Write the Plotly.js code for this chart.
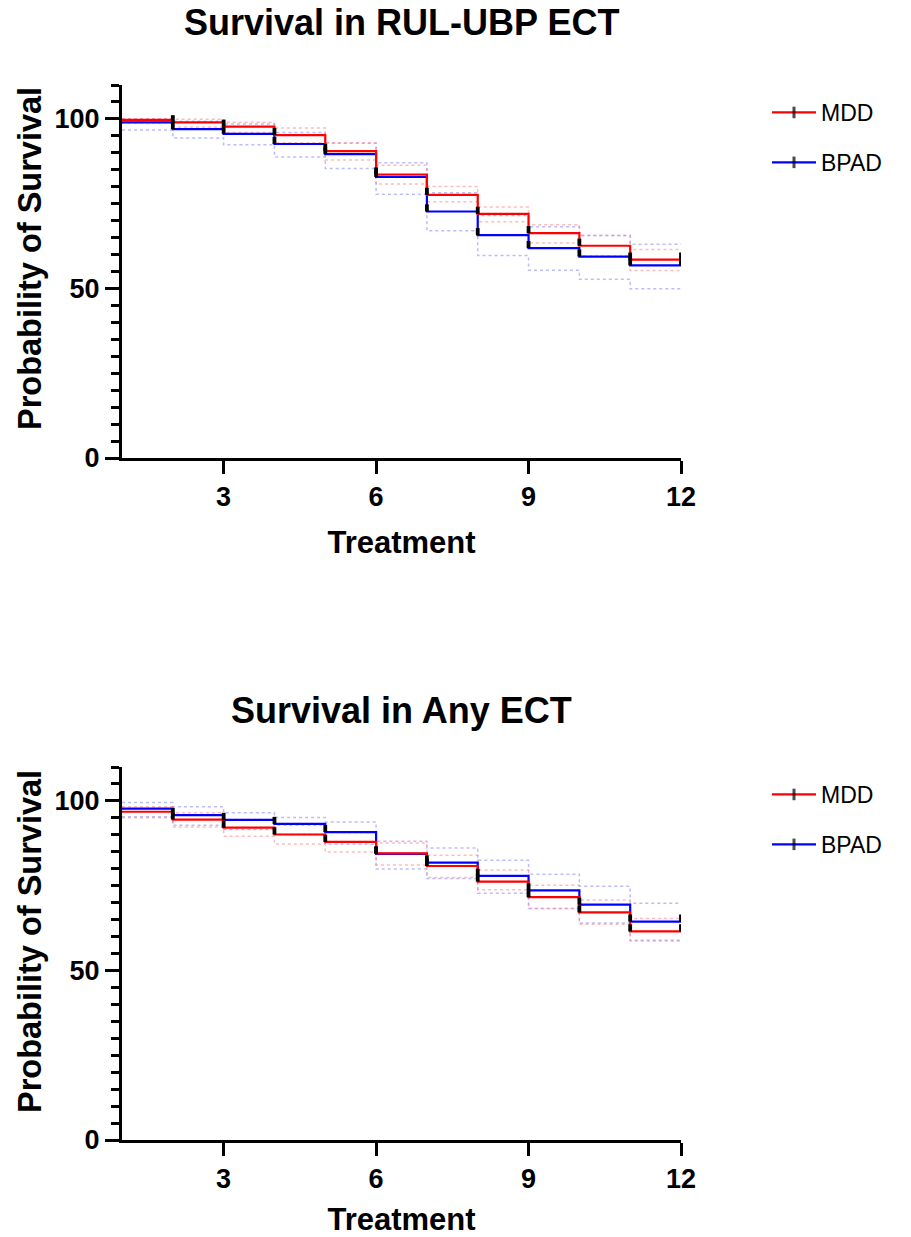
<!DOCTYPE html>
<html><head><meta charset="utf-8">
<script src="https://cdn.plot.ly/plotly-3.0.1.min.js"></script>
<style>html,body{margin:0;padding:0;background:#fff}#chart{width:911px;height:1237px}</style>
</head><body><div id="chart"></div>
<script>
// Treatment number (x)
const treatments = [1, 2, 3, 4, 5, 6, 7, 8, 9, 10, 11, 12];

// Top panel: Survival in RUL-UBP ECT
const topMdd      = [99.7, 99.0, 97.7, 95.2, 90.5, 83.6, 77.6, 72.0, 66.3, 62.6, 58.5, 58.5];
const topMddUpper = [100, 99.9, 99.0, 97.3, 93.0, 86.3, 80.1, 74.0, 68.8, 65.6, 61.5, 61.5];
const topMddLower = [98.8, 97.6, 96.0, 93.0, 87.9, 80.8, 75.6, 69.7, 63.4, 59.6, 55.3, 55.3];
const topBpad      = [99.0, 97.0, 95.6, 92.6, 89.6, 82.9, 72.7, 65.7, 61.9, 59.4, 56.8, 56.8];
const topBpadUpper = [100, 99.3, 98.5, 96.0, 92.8, 87.1, 78.2, 71.5, 68.2, 65.6, 63.0, 63.0];
const topBpadLower = [96.7, 94.4, 92.4, 88.8, 85.4, 77.8, 67.0, 59.7, 55.4, 52.7, 49.9, 49.9];

// Bottom panel: Survival in Any ECT
const botMdd      = [96.8, 94.5, 92.1, 90.1, 87.9, 84.5, 80.8, 76.2, 71.6, 67.1, 61.5, 61.5];
const botMddUpper = [98.3, 96.5, 94.5, 92.8, 90.7, 87.6, 84.0, 79.6, 75.1, 70.8, 65.3, 65.3];
const botMddLower = [95.0, 92.3, 89.6, 87.3, 84.9, 81.1, 77.4, 73.8, 68.3, 63.6, 58.7, 58.7];
const botBpad      = [97.7, 95.8, 94.4, 93.2, 90.8, 84.4, 81.8, 77.9, 73.6, 69.4, 64.4, 64.4];
const botBpadUpper = [99.5, 98.3, 96.5, 95.1, 93.8, 88.1, 86.1, 82.5, 78.4, 74.8, 69.8, 69.8];
const botBpadLower = [95.3, 92.8, 91.6, 90.2, 87.2, 79.9, 77.1, 72.8, 68.3, 64.0, 58.9, 58.9];

const groupNames = ['MDD', 'BPAD'];
const titles = ['Survival in RUL-UBP ECT', 'Survival in Any ECT'];
const xTitle = 'Treatment';
const yTitle = 'Probability of Survival';
const xTicks = [3, 6, 9, 12];

const FONT = '"Liberation Sans", Arial, sans-serif';
const RED = '#ff0000', BLUE = '#0000ff';
const RED_CI = 'rgba(255,120,120,0.5)', BLUE_CI = 'rgba(120,120,255,0.5)';

function ciTrace(y, color, xa, ya) {
  return {x: treatments, y: y, xaxis: xa, yaxis: ya, mode: 'lines', showlegend: false,
    hoverinfo: 'skip', line: {shape: 'hv', color: color, width: 1.5, dash: 'dot'}};
}
function stepTrace(y, color, name, xa, ya, legend, rank) {
  return {x: treatments, y: y, xaxis: xa, yaxis: ya, name: name, legend: legend,
    legendgroup: legend + name, legendrank: rank, mode: 'lines+markers',
    line: {shape: 'hv', color: color, width: 2.2},
    marker: {symbol: 'line-ns', size: y.map((v, i) => i === 0 ? 0 : 9),
      color: 'black',
      line: {width: 3, color: y.map((v, i) => i === 0 ? 'black' : 'rgba(0,0,0,0)')}}};
}
function censorTrace(y, xa, ya) {
  return {x: treatments.slice(1), y: y.slice(1), xaxis: xa, yaxis: ya, mode: 'markers',
    showlegend: false, hoverinfo: 'skip', cliponaxis: false,
    marker: {size: 1, color: 'rgba(0,0,0,0)'},
    error_y: {type: 'constant', symmetric: false, value: 2.1, valueminus: 0,
      width: 0, thickness: 3.8, color: 'black'}};
}

const data = [
  ciTrace(topBpadUpper, BLUE_CI, 'x', 'y'), ciTrace(topBpadLower, BLUE_CI, 'x', 'y'),
  ciTrace(topMddUpper, RED_CI, 'x', 'y'), ciTrace(topMddLower, RED_CI, 'x', 'y'),
  stepTrace(topBpad, BLUE, groupNames[1], 'x', 'y', 'legend', 2),
  stepTrace(topMdd, RED, groupNames[0], 'x', 'y', 'legend', 1),
  censorTrace(topBpad, 'x', 'y'), censorTrace(topMdd, 'x', 'y'),

  ciTrace(botBpadUpper, BLUE_CI, 'x2', 'y2'), ciTrace(botBpadLower, BLUE_CI, 'x2', 'y2'),
  ciTrace(botMddUpper, RED_CI, 'x2', 'y2'), ciTrace(botMddLower, RED_CI, 'x2', 'y2'),
  stepTrace(botBpad, BLUE, groupNames[1], 'x2', 'y2', 'legend2', 2),
  stepTrace(botMdd, RED, groupNames[0], 'x2', 'y2', 'legend2', 1),
  censorTrace(botBpad, 'x2', 'y2'), censorTrace(botMdd, 'x2', 'y2')
];

const W = 911, H = 1237;
const xDom = [122 / W, 681 / W];
const tickFont = {family: FONT, size: 27, weight: 'bold', color: 'black'};

function xAxis(anchor) {
  return {domain: xDom, range: [1, 12], anchor: anchor, tickmode: 'array', tickvals: xTicks,
    ticks: 'outside', ticklen: 13, tickwidth: 3, tickcolor: 'black',
    showline: true, linewidth: 3, linecolor: 'black', showgrid: false, zeroline: false,
    tickfont: tickFont,
    title: {text: xTitle, font: {family: FONT, size: 31, weight: 'bold', color: 'black'}, standoff: 20},
    fixedrange: true};
}
function yAxis(anchor, dom) {
  return {domain: dom, range: [0, 110], anchor: anchor, tickmode: 'linear', tick0: 0, dtick: 50,
    ticks: 'outside', ticklen: 14, tickwidth: 3, tickcolor: 'black',
    minor: {tickmode: 'linear', tick0: 0, dtick: 5, ticks: 'outside', ticklen: 8, tickwidth: 3,
      tickcolor: 'black', showgrid: false},
    showline: true, linewidth: 3, linecolor: 'black', showgrid: false, zeroline: false,
    tickfont: tickFont, fixedrange: true};
}
function legendCfg(yTop) {
  return {x: 767 / W, y: 1 - yTop / H, xanchor: 'left', yanchor: 'top',
    font: {family: FONT, size: 23, color: 'black'}, bgcolor: 'rgba(0,0,0,0)',
    traceorder: 'grouped', tracegroupgap: 17, valign: 'middle', itemwidth: 44};
}
function yTitleAnn(yCenter) {
  return {text: '<b>' + yTitle + '</b>', x: 30 / W, y: 1 - yCenter / H, xref: 'paper', yref: 'paper',
    xanchor: 'center', yanchor: 'middle', textangle: -90, showarrow: false,
    font: {family: FONT, size: 32.5, color: 'black'}};
}

const layout = {
  width: W, height: H, margin: {l: 0, r: 0, t: 0, b: 0},
  paper_bgcolor: 'white', plot_bgcolor: 'white', showlegend: true,
  xaxis: xAxis('y'), yaxis: yAxis('x', [1 - 458 / H, 1 - 85 / H]),
  xaxis2: xAxis('y2'), yaxis2: yAxis('x2', [1 - 1140 / H, 1 - 767 / H]),
  legend: legendCfg(91), legend2: legendCfg(773),
  annotations: [
    {text: '<b>' + titles[0] + '</b>', x: 401.5 / W, y: 1 - 23 / H, xref: 'paper', yref: 'paper',
      xanchor: 'center', yanchor: 'middle', showarrow: false, font: {family: FONT, size: 36, color: 'black'}},
    {text: '<b>' + titles[1] + '</b>', x: 401.5 / W, y: 1 - 710 / H, xref: 'paper', yref: 'paper',
      xanchor: 'center', yanchor: 'middle', showarrow: false, font: {family: FONT, size: 36, color: 'black'}},
    yTitleAnn(259), yTitleAnn(942)
  ]
};

Plotly.newPlot('chart', data, layout, {displayModeBar: false, staticPlot: true});
</script>
</body></html>
